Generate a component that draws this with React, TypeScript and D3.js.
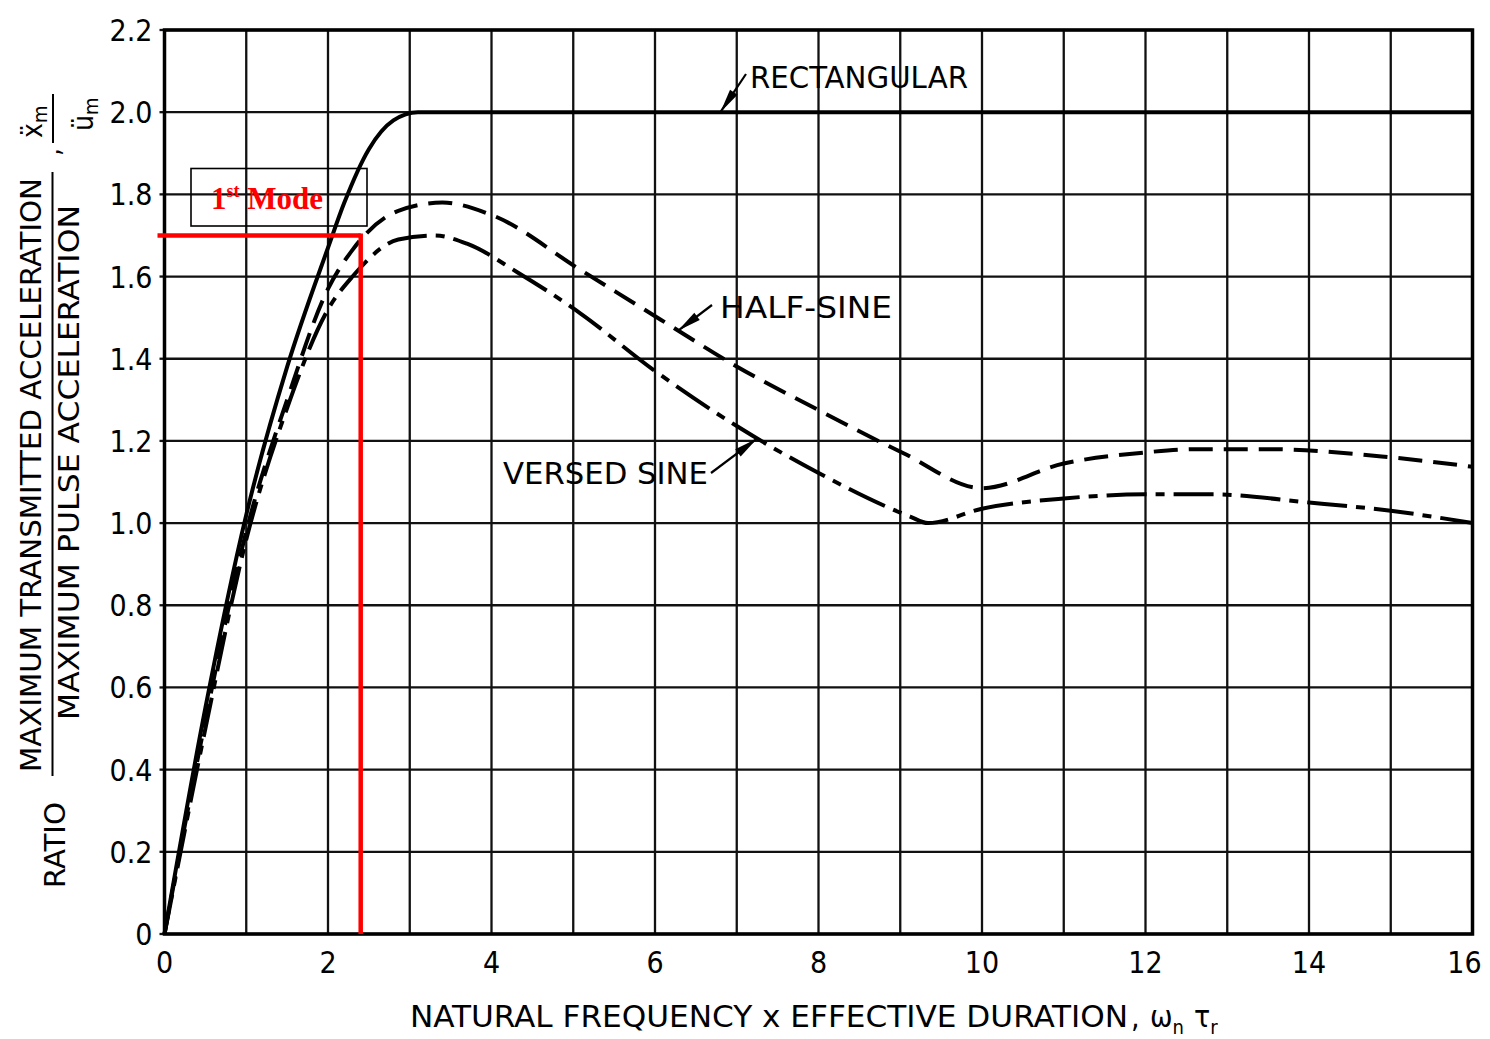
import React from "react";
import * as d3 from "d3";

// ---- data ----
const xTicks = [0, 2, 4, 6, 8, 10, 12, 14, 16];
const yTicks = [0, 0.2, 0.4, 0.6, 0.8, 1.0, 1.2, 1.4, 1.6, 1.8, 2.0, 2.2];
const yTickLabels = ["0", "0.2", "0.4", "0.6", "0.8", "1.0", "1.2", "1.4", "1.6", "1.8", "2.0", "2.2"];

const rectangularX = [0, 0.5, 1.0, 1.5, 2.0, 2.2, 2.5, 2.8, 3.1, 4, 8, 12, 16];
const rectangularY = [0, 0.55, 1.02, 1.38, 1.67, 1.78, 1.91, 1.98, 2.0, 2.0, 2.0, 2.0, 2.0];

const halfSineX = [0, 0.5, 1.0, 1.5, 2.0, 2.3, 2.86, 3.4, 4.0, 5.09, 6.07, 7.01, 7.99, 9.04, 10.0, 11.0, 12.0, 12.6, 13.5, 15.0, 16.0];
const halfSineY = [0, 0.52, 0.98, 1.3, 1.57, 1.665, 1.76, 1.78, 1.75, 1.616, 1.495, 1.38, 1.276, 1.17, 1.085, 1.145, 1.172, 1.18, 1.18, 1.16, 1.137];

const versedSineX = [0, 0.5, 1.0, 1.5, 2.0, 2.3, 2.86, 3.3, 3.7, 4.32, 5.09, 5.98, 7.01, 7.99, 9.12, 9.34, 10.0, 11.0, 12.0, 12.8, 14.0, 15.0, 16.0];
const versedSineY = [0, 0.5, 0.96, 1.28, 1.52, 1.6, 1.69, 1.7, 1.68, 1.61, 1.51, 1.373, 1.235, 1.123, 1.016, 1.0, 1.035, 1.06, 1.07, 1.07, 1.05, 1.03, 1.0];

const modeX = 2.4;
const modeY = 1.7;

// ---- layout ----
const W = 1490;
const H = 1039;
const X0 = 164.5;
const X1 = 1472.5;
const Y0 = 934;
const Y1 = 30;

const FONT = "'Liberation Sans Narrow', 'DejaVu Sans Condensed', 'Liberation Sans', sans-serif";

export default function App() {
  const x = d3.scaleLinear().domain([0, 16]).range([X0, X1]);
  const y = d3.scaleLinear().domain([0, 2.2]).range([Y0, Y1]);

  const line = d3
    .line<[number, number]>()
    .x((d) => x(d[0]))
    .y((d) => y(d[1]))
    .curve(d3.curveMonotoneX);

  const zip = (a: number[], b: number[]) => a.map((v, i) => [v, b[i]] as [number, number]);

  const vGrid = d3.range(0, 17, 1);
  const hGrid = yTicks;

  const arrow = (tip: [number, number], from: [number, number], key: string) => {
    const tx = x(tip[0]);
    const ty = y(tip[1]);
    const fx = from[0];
    const fy = from[1];
    const dx = fx - tx;
    const dy = fy - ty;
    const len = Math.sqrt(dx * dx + dy * dy);
    const ux = dx / len;
    const uy = dy / len;
    const L = 24;
    const hw = 4.5;
    const bx = tx + ux * L;
    const by = ty + uy * L;
    const px = -uy;
    const py = ux;
    return (
      <g key={key}>
        <line x1={tx} y1={ty} x2={fx} y2={fy} stroke="#000" strokeWidth={2.2} />
        <path
          d={`M${tx},${ty} L${bx + px * hw},${by + py * hw} L${bx - px * hw},${by - py * hw} Z`}
          fill="#000"
        />
      </g>
    );
  };

  return (
    <svg
      width={W}
      height={H}
      style={{ position: "absolute", left: 0, top: 0, display: "block", background: "#fff" }}
      fontFamily={FONT}
    >
      <rect x={0} y={0} width={W} height={H} fill="#fff" />
      {/* grid */}
      {vGrid.map((v) => (
        <line key={"v" + v} x1={x(v)} x2={x(v)} y1={Y1} y2={Y0} stroke="#111" strokeWidth={2.3} />
      ))}
      {hGrid.map((v) => (
        <line key={"h" + v} x1={X0} x2={X1} y1={y(v)} y2={y(v)} stroke="#111" strokeWidth={2.3} />
      ))}
      {yTicks.map((v) => (
        <line key={"t" + v} x1={X0 - 5} x2={X0} y1={y(v)} y2={y(v)} stroke="#111" strokeWidth={2.3} />
      ))}
      <rect x={X0} y={Y1} width={X1 - X0} height={Y0 - Y1} fill="none" stroke="#000" strokeWidth={3.5} />

      {/* y tick labels */}
      {yTicks.map((v, i) => (
        <text key={"yl" + v} x={X0 - 12} y={y(v) + 11} textAnchor="end" fontSize={30} fill="#000">
          {yTickLabels[i]}
        </text>
      ))}
      {/* x tick labels */}
      {xTicks.map((v) => (
        <text
          key={"xl" + v}
          x={v === 16 ? x(v) - 8 : x(v)}
          y={973}
          textAnchor="middle"
          fontSize={30}
          fill="#000"
        >
          {v}
        </text>
      ))}

      {/* curves */}
      <path d={line(zip(rectangularX, rectangularY)) || ""} fill="none" stroke="#000" strokeWidth={4} />
      <path
        d={line(zip(halfSineX, halfSineY)) || ""}
        fill="none"
        stroke="#000"
        strokeWidth={4}
        strokeDasharray="24,11"
      />
      <path
        d={line(zip(versedSineX, versedSineY)) || ""}
        fill="none"
        stroke="#000"
        strokeWidth={4}
        strokeDasharray="40,9,9,9"
      />

      {/* annotations */}
      {arrow([6.8, 2.0], [746, 74], "a1")}
      <text x={750} y={88} fontSize={31} textLength={218} lengthAdjust="spacingAndGlyphs" fill="#000">
        RECTANGULAR
      </text>
      {arrow([6.28, 1.468], [712, 305], "a2")}
      <text x={720} y={318} fontSize={31} textLength={172} lengthAdjust="spacingAndGlyphs" fill="#000">
        HALF-SINE
      </text>
      {arrow([7.25, 1.206], [711, 473], "a3")}
      <text x={503} y={484} fontSize={31} textLength={205} lengthAdjust="spacingAndGlyphs" fill="#000">
        VERSED SINE
      </text>

      {/* red mode lines */}
      <line x1={X0 - 7} x2={x(modeX)} y1={y(modeY)} y2={y(modeY)} stroke="#ff0000" strokeWidth={4.5} />
      <line x1={x(modeX)} x2={x(modeX)} y1={y(modeY) - 2} y2={Y0} stroke="#ff0000" strokeWidth={4.5} />

      {/* 1st Mode box */}
      <rect x={191} y={168.5} width={176} height={57.5} fill="none" stroke="#000" strokeWidth={1.6} />
      <text
        x={211}
        y={209}
        fontSize={31}
        fontWeight="bold"
        fontFamily="'Liberation Serif', 'Times New Roman', serif"
        fill="#ff0000"
      >
        1<tspan fontSize={18} dy={-12}>st</tspan>
        <tspan dy={12}> Mode</tspan>
      </text>

      {/* x axis title */}
      <text x={410} y={1027} fontSize={30} textLength={718} lengthAdjust="spacingAndGlyphs" fill="#000">
        NATURAL FREQUENCY x EFFECTIVE DURATION
      </text>
      <text x={1131} y={1027} fontSize={30} fill="#000">,</text>
      <text x={1150} y={1027} fontSize={30} fill="#000">
        ω<tspan fontSize={20} dy={7}>n</tspan>
        <tspan dy={-7} dx={10}>τ</tspan>
        <tspan fontSize={20} dy={7}>r</tspan>
      </text>

      {/* y axis title */}
      <text
        transform="translate(41,772) rotate(-90)"
        fontSize={28}
        textLength={594}
        lengthAdjust="spacingAndGlyphs"
        fill="#000"
      >
        MAXIMUM TRANSMITTED ACCELERATION
      </text>
      <line x1={52.5} x2={52.5} y1={776} y2={172} stroke="#000" strokeWidth={2} />
      <text
        transform="translate(79,720) rotate(-90)"
        fontSize={28}
        textLength={515}
        lengthAdjust="spacingAndGlyphs"
        fill="#000"
      >
        MAXIMUM PULSE ACCELERATION
      </text>
      <text
        transform="translate(65,888) rotate(-90)"
        fontSize={28}
        textLength={86}
        lengthAdjust="spacingAndGlyphs"
        fill="#000"
      >
        RATIO
      </text>
      <text transform="translate(60,156) rotate(-90)" fontSize={28} fill="#000">
        ,
      </text>
      <text transform="translate(42,138) rotate(-90)" fontSize={28} fill="#000">
        ẍ<tspan fontSize={20} dy={5}>m</tspan>
      </text>
      <line x1={53} x2={53} y1={143} y2={94} stroke="#000" strokeWidth={2} />
      <text transform="translate(93,131) rotate(-90)" fontSize={28} fill="#000">
        ü<tspan fontSize={20} dy={5}>m</tspan>
      </text>
    </svg>
  );
}
